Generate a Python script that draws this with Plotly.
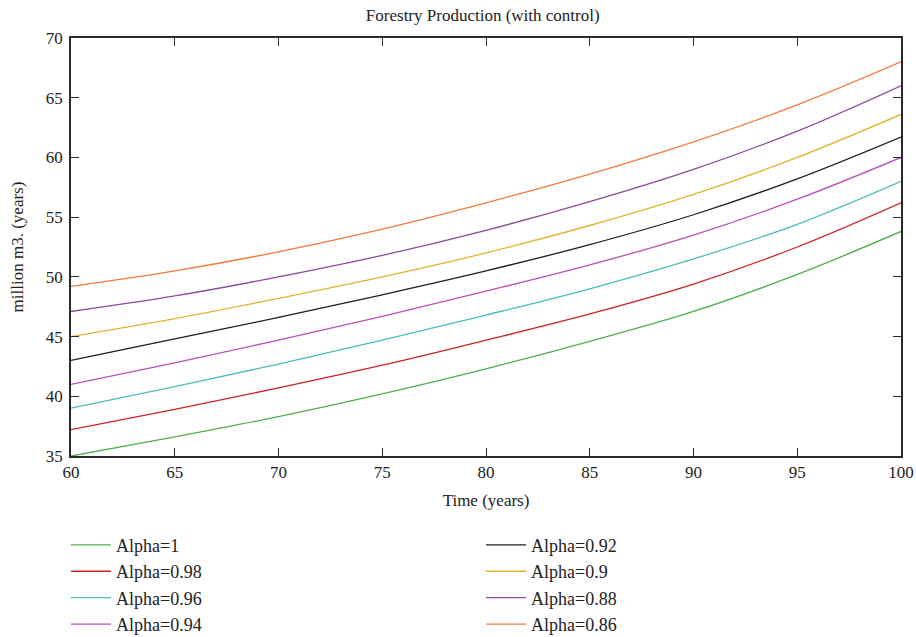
import plotly.graph_objects as go

# Time axis (years)
years = [60, 65, 70, 75, 80, 85, 90, 95, 100]

# Forestry production (million m3) for each fractional order alpha
alpha_1    = [35.0, 36.6, 38.3, 40.2, 42.3, 44.6, 47.1, 50.2, 53.8]
alpha_098  = [37.2, 38.9, 40.7, 42.6, 44.7, 46.9, 49.4, 52.5, 56.2]
alpha_096  = [39.0, 40.8, 42.7, 44.7, 46.8, 49.0, 51.5, 54.4, 58.0]
alpha_094  = [41.0, 42.8, 44.7, 46.7, 48.8, 51.0, 53.5, 56.5, 60.0]
alpha_092  = [43.0, 44.8, 46.6, 48.5, 50.5, 52.7, 55.2, 58.2, 61.7]
alpha_090  = [45.0, 46.5, 48.2, 50.0, 52.0, 54.3, 56.9, 60.0, 63.6]
alpha_088  = [47.1, 48.4, 50.0, 51.8, 53.9, 56.3, 59.0, 62.2, 66.0]
alpha_086  = [49.2, 50.5, 52.1, 54.0, 56.2, 58.6, 61.3, 64.4, 68.0]

labels = ["Alpha=1", "Alpha=0.98", "Alpha=0.96", "Alpha=0.94",
          "Alpha=0.92", "Alpha=0.9", "Alpha=0.88", "Alpha=0.86"]
series = [alpha_1, alpha_098, alpha_096, alpha_094,
          alpha_092, alpha_090, alpha_088, alpha_086]
colors = ["#4fae4a", "#cc2127", "#4cbcbc", "#bb4fbb",
          "#1e1e1e", "#e2b233", "#8b4a9b", "#f27a3a"]

FONT = "Liberation Serif"
TXT = "#222"

fig = go.Figure()
for i, (name, ys, col) in enumerate(zip(labels, series, colors)):
    fig.add_trace(go.Scatter(
        x=years, y=ys, name=name, mode="lines",
        line=dict(color=col, width=1.3, shape="spline", smoothing=1.0),
        legend="legend" if i < 4 else "legend2",
    ))

axis_common = dict(
    showline=True, linecolor="#2a2a2a", linewidth=1.5, mirror="ticks",
    ticks="inside", ticklen=8, tickwidth=1.3, tickcolor="#2a2a2a",
    showgrid=False, zeroline=False, automargin=False,
    tickfont=dict(family=FONT, size=17, color=TXT),
)

legend_common = dict(
    yanchor="top", xanchor="left", orientation="v",
    font=dict(family=FONT, size=18, color=TXT), itemwidth=40,
    bgcolor="rgba(0,0,0,0)", tracegroupgap=0,
)

fig.update_layout(
    width=916, height=637,
    margin=dict(l=71, r=15, t=38, b=181, autoexpand=False),
    paper_bgcolor="white", plot_bgcolor="white",
    title=dict(text="Forestry Production (with control)", x=0.527, xanchor="center",
               y=0.986, yanchor="top",
               font=dict(family=FONT, size=17, color=TXT)),
    xaxis=dict(range=[60, 100], dtick=5,
               title=dict(text="Time (years)", standoff=13,
                          font=dict(family=FONT, size=17, color=TXT)),
               **axis_common),
    yaxis=dict(range=[35, 70], dtick=5, ticklabelstandoff=3,
               title=dict(text="million m3. (years)", standoff=18,
                          font=dict(family=FONT, size=17, color=TXT)),
               **axis_common),
    legend=dict(x=-0.006, y=-0.169, **legend_common),
    legend2=dict(x=0.494, y=-0.169, **legend_common),
)

fig.write_html("out.html")
